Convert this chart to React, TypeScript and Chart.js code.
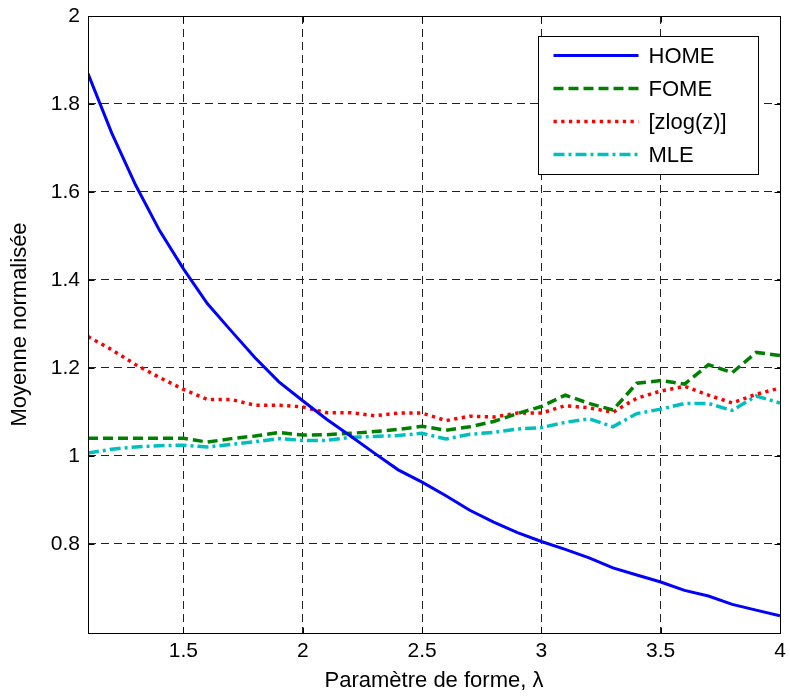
import React, { useEffect, useRef } from 'react';
import { Chart, registerables } from 'chart.js';

Chart.register(...registerables);

const lambda = [1.1, 1.2, 1.3, 1.4, 1.5, 1.6, 1.7, 1.8, 1.9, 2.0, 2.1, 2.2, 2.3, 2.4, 2.5, 2.6, 2.7, 2.8, 2.9, 3.0, 3.1, 3.2, 3.3, 3.4, 3.5, 3.6, 3.7, 3.8, 3.9, 4.0];

const home = [1.869, 1.733, 1.615, 1.512, 1.425, 1.346, 1.284, 1.223, 1.168, 1.125, 1.083, 1.045, 1.006, 0.968, 0.940, 0.909, 0.876, 0.849, 0.825, 0.805, 0.787, 0.768, 0.745, 0.729, 0.713, 0.694, 0.681, 0.662, 0.649, 0.636];

const fome = [1.040, 1.040, 1.040, 1.040, 1.040, 1.031, 1.039, 1.045, 1.053, 1.047, 1.048, 1.051, 1.055, 1.060, 1.067, 1.058, 1.066, 1.078, 1.096, 1.112, 1.138, 1.119, 1.104, 1.165, 1.171, 1.163, 1.207, 1.189, 1.235, 1.228];

const zlog = [1.271, 1.241, 1.207, 1.178, 1.151, 1.128, 1.128, 1.115, 1.115, 1.111, 1.098, 1.098, 1.091, 1.097, 1.097, 1.080, 1.090, 1.088, 1.097, 1.097, 1.114, 1.109, 1.099, 1.131, 1.147, 1.158, 1.138, 1.120, 1.140, 1.154];

const mle = [1.006, 1.015, 1.020, 1.023, 1.024, 1.020, 1.026, 1.032, 1.039, 1.035, 1.035, 1.042, 1.044, 1.046, 1.051, 1.038, 1.049, 1.053, 1.061, 1.064, 1.076, 1.084, 1.066, 1.096, 1.106, 1.119, 1.119, 1.103, 1.136, 1.120];

const seriesLabels = ['HOME', 'FOME', '[zlog(z)]', 'MLE'];
const xTicks = [1.5, 2, 2.5, 3, 3.5, 4];
const yTicks = [0.8, 1, 1.2, 1.4, 1.6, 1.8, 2];
const xTitle = 'Paramètre de forme, λ';
const yTitle = 'Moyenne normalisée';

const FONT = 'Arial, "Liberation Sans", Helvetica, sans-serif';

export default function App() {
  const ref = useRef<HTMLCanvasElement>(null);

  useEffect(() => {
    document.body.style.margin = '0';
    const canvas = ref.current;
    if (!canvas) return;

    const pts = (arr: number[]) => lambda.map((x, i) => ({ x, y: arr[i] }));

    const boxPlugin = {
      id: 'axesBox',
      afterDatasetsDraw(chart: any) {
        const { ctx, chartArea, scales } = chart;
        const L = Math.round(chartArea.left) + 0.5;
        const T = Math.round(chartArea.top) + 0.5;
        const R = Math.round(chartArea.right) + 0.5;
        const B = Math.round(chartArea.bottom) + 0.5;
        ctx.save();
        ctx.strokeStyle = '#000';
        ctx.lineWidth = 1;
        ctx.setLineDash([]);
        ctx.strokeRect(L, T, R - L, B - T);
        const tl = 6;
        ctx.beginPath();
        xTicks.forEach((v) => {
          const px = Math.round(scales.x.getPixelForValue(v)) + 0.5;
          ctx.moveTo(px, B);
          ctx.lineTo(px, B - tl);
          ctx.moveTo(px, T);
          ctx.lineTo(px, T + tl);
        });
        yTicks.forEach((v) => {
          const py = Math.round(scales.y.getPixelForValue(v)) + 0.5;
          ctx.moveTo(L, py);
          ctx.lineTo(L + tl, py);
          ctx.moveTo(R, py);
          ctx.lineTo(R - tl, py);
        });
        ctx.stroke();
        ctx.restore();
      },
    };

    const legendPlugin = {
      id: 'boxLegend',
      afterDraw(chart: any) {
        const { ctx, chartArea } = chart;
        const w = 220;
        const h = 138;
        const left = Math.round(chartArea.right - 22 - w) + 0.5;
        const top = Math.round(chartArea.top + 20) + 0.5;
        ctx.save();
        ctx.fillStyle = '#fff';
        ctx.fillRect(left, top, w, h);
        ctx.strokeStyle = '#000';
        ctx.lineWidth = 1;
        ctx.setLineDash([]);
        ctx.strokeRect(left, top, w, h);
        chart.data.datasets.forEach((ds: any, i: number) => {
          const y = top + 19 + i * 33;
          ctx.save();
          ctx.strokeStyle = ds.borderColor;
          ctx.lineWidth = ds.borderWidth;
          ctx.lineCap = 'butt';
          ctx.setLineDash(ds.borderDash || []);
          ctx.beginPath();
          ctx.moveTo(left + 15, y);
          ctx.lineTo(left + 100, y);
          ctx.stroke();
          ctx.restore();
          ctx.fillStyle = '#000';
          ctx.font = `22px ${FONT}`;
          ctx.textAlign = 'left';
          ctx.textBaseline = 'middle';
          ctx.fillText(ds.label, left + 110, y + 1);
        });
        ctx.restore();
      },
    };

    const gridCommon = {
      color: '#222',
      lineWidth: 1,
      drawTicks: false,
    };

    const chart = new Chart(canvas, {
      type: 'line',
      data: {
        datasets: [
          {
            label: seriesLabels[0],
            data: pts(home),
            borderColor: '#0000FF',
            borderWidth: 3,
            borderDash: [],
          },
          {
            label: seriesLabels[1],
            data: pts(fome),
            borderColor: '#008000',
            borderWidth: 3.5,
            borderDash: [10, 5],
          },
          {
            label: seriesLabels[2],
            data: pts(zlog),
            borderColor: '#FF0000',
            borderWidth: 3.5,
            borderDash: [3.3, 4.4],
          },
          {
            label: seriesLabels[3],
            data: pts(mle),
            borderColor: '#00BFBF',
            borderWidth: 3.5,
            borderDash: [11, 4, 3, 4],
          },
        ],
      },
      options: {
        animation: false,
        responsive: false,
        layout: { padding: { top: 16, right: 10, left: 0, bottom: 0 } },
        elements: {
          point: { radius: 0, hoverRadius: 0 },
          line: { tension: 0, fill: false, borderCapStyle: 'butt' },
        },
        plugins: {
          legend: { display: false },
          tooltip: { enabled: false },
        },
        scales: {
          x: {
            type: 'linear',
            min: 1.1,
            max: 4,
            afterBuildTicks: (s: any) => {
              s.ticks = xTicks.map((v) => ({ value: v }));
            },
            afterFit: (s: any) => {
              s.height = 67;
              s.paddingLeft = 0;
              s.paddingRight = 0;
            },
            grid: gridCommon,
            border: { display: false, dash: [8, 5] },
            ticks: {
              color: '#000',
              padding: 6,
              maxRotation: 0,
              autoSkip: false,
              font: { family: FONT, size: 21 },
              callback: (v: any) => String(v),
            },
            title: {
              display: true,
              text: xTitle,
              color: '#000',
              font: { family: FONT, size: 22 },
              padding: { top: 0, bottom: 6 },
            },
          },
          y: {
            type: 'linear',
            min: 0.597,
            max: 2,
            afterBuildTicks: (s: any) => {
              s.ticks = yTicks.map((v) => ({ value: v }));
            },
            afterFit: (s: any) => {
              s.width = 88;
              s.paddingTop = 0;
              s.paddingBottom = 0;
            },
            grid: gridCommon,
            border: { display: false, dash: [8, 5] },
            ticks: {
              color: '#000',
              padding: 8,
              autoSkip: false,
              font: { family: FONT, size: 21 },
              callback: (v: any) => String(v),
            },
            title: {
              display: true,
              text: yTitle,
              color: '#000',
              font: { family: FONT, size: 22 },
              padding: { top: 7, bottom: 0 },
            },
          },
        },
      },
      plugins: [boxPlugin, legendPlugin],
    } as any);

    return () => chart.destroy();
  }, []);

  return <canvas ref={ref} width={790} height={700} style={{ display: 'block' }} />;
}
